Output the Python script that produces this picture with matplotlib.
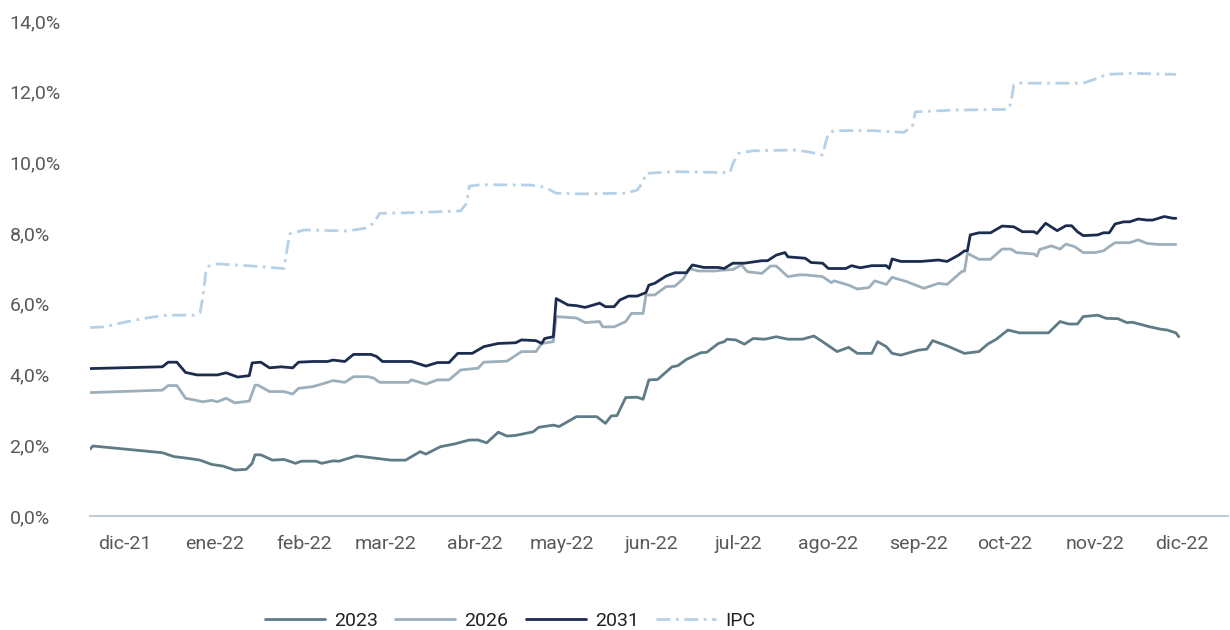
import pandas as pd
import matplotlib
matplotlib.use("Agg")
import matplotlib.pyplot as plt
from matplotlib.ticker import FuncFormatter

# datos (tasas en %)
fechas_2023 = ["2021-11-19", "2021-11-20", "2021-12-14", "2021-12-18", "2021-12-23", "2021-12-27",
               "2021-12-31", "2022-01-04", "2022-01-08", "2022-01-12", "2022-01-14", "2022-01-15",
               "2022-01-17", "2022-01-21", "2022-01-25", "2022-01-29", "2022-01-31", "2022-02-05",
               "2022-02-07", "2022-02-11", "2022-02-13", "2022-02-19", "2022-02-26", "2022-03-03",
               "2022-03-08", "2022-03-13", "2022-03-15", "2022-03-20", "2022-03-25", "2022-03-30",
               "2022-04-02", "2022-04-05", "2022-04-09", "2022-04-12", "2022-04-15", "2022-04-21",
               "2022-04-23", "2022-04-28", "2022-04-30", "2022-05-03", "2022-05-06", "2022-05-10",
               "2022-05-13", "2022-05-16", "2022-05-18", "2022-05-20", "2022-05-23", "2022-05-27",
               "2022-05-29", "2022-05-31", "2022-06-03", "2022-06-08", "2022-06-10", "2022-06-13",
               "2022-06-18", "2022-06-20", "2022-06-24", "2022-06-26", "2022-06-27", "2022-06-30",
               "2022-07-03", "2022-07-06", "2022-07-10", "2022-07-14", "2022-07-18", "2022-07-23",
               "2022-07-27", "2022-07-30", "2022-08-04", "2022-08-08", "2022-08-11", "2022-08-16",
               "2022-08-18", "2022-08-21", "2022-08-23", "2022-08-26", "2022-09-01", "2022-09-04",
               "2022-09-06", "2022-09-11", "2022-09-17", "2022-09-22", "2022-09-25", "2022-09-28",
               "2022-10-02", "2022-10-06", "2022-10-16", "2022-10-20", "2022-10-23", "2022-10-26",
               "2022-10-28", "2022-11-02", "2022-11-05", "2022-11-09", "2022-11-12", "2022-11-14",
               "2022-11-20", "2022-11-24", "2022-11-26", "2022-11-29", "2022-11-30"]
tasa_2023 = [1.89, 1.98, 1.79, 1.68, 1.63, 1.58,
             1.46, 1.41, 1.30, 1.32, 1.49, 1.73,
             1.73, 1.58, 1.60, 1.49, 1.55, 1.55,
             1.49, 1.56, 1.55, 1.70, 1.63, 1.58,
             1.58, 1.82, 1.75, 1.96, 2.04, 2.15,
             2.15, 2.07, 2.37, 2.26, 2.28, 2.38,
             2.51, 2.57, 2.53, 2.67, 2.81, 2.81,
             2.81, 2.62, 2.83, 2.84, 3.35, 3.36,
             3.30, 3.85, 3.86, 4.22, 4.25, 4.43,
             4.62, 4.63, 4.88, 4.93, 5.00, 4.98,
             4.86, 5.02, 5.00, 5.07, 5.00, 5.00,
             5.09, 4.93, 4.65, 4.77, 4.60, 4.60,
             4.93, 4.79, 4.60, 4.55, 4.69, 4.72,
             4.96, 4.81, 4.60, 4.65, 4.86, 5.00,
             5.26, 5.18, 5.18, 5.50, 5.43, 5.43,
             5.64, 5.68, 5.59, 5.58, 5.47, 5.48,
             5.35, 5.28, 5.26, 5.18, 5.07]

fechas_2026 = ["2021-11-19", "2021-12-14", "2021-12-16", "2021-12-19", "2021-12-22", "2021-12-25",
               "2021-12-28", "2021-12-31", "2022-01-02", "2022-01-05", "2022-01-08", "2022-01-13",
               "2022-01-15", "2022-01-16", "2022-01-20", "2022-01-25", "2022-01-28", "2022-01-30",
               "2022-02-04", "2022-02-07", "2022-02-11", "2022-02-15", "2022-02-18", "2022-02-23",
               "2022-02-25", "2022-02-27", "2022-03-09", "2022-03-10", "2022-03-15", "2022-03-19",
               "2022-03-23", "2022-03-27", "2022-04-02", "2022-04-04", "2022-04-12", "2022-04-17",
               "2022-04-22", "2022-04-24", "2022-04-28", "2022-04-29", "2022-05-06", "2022-05-09",
               "2022-05-14", "2022-05-15", "2022-05-19", "2022-05-23", "2022-05-25", "2022-05-29",
               "2022-05-30", "2022-06-02", "2022-06-06", "2022-06-09", "2022-06-12", "2022-06-14",
               "2022-06-17", "2022-06-23", "2022-06-25", "2022-06-29", "2022-07-02", "2022-07-04",
               "2022-07-09", "2022-07-12", "2022-07-14", "2022-07-18", "2022-07-22", "2022-07-24",
               "2022-07-30", "2022-08-02", "2022-08-03", "2022-08-08", "2022-08-11", "2022-08-15",
               "2022-08-17", "2022-08-21", "2022-08-23", "2022-08-28", "2022-09-03", "2022-09-08",
               "2022-09-11", "2022-09-16", "2022-09-17", "2022-09-18", "2022-09-22", "2022-09-26",
               "2022-09-30", "2022-10-03", "2022-10-05", "2022-10-11", "2022-10-12", "2022-10-13",
               "2022-10-17", "2022-10-20", "2022-10-22", "2022-10-25", "2022-10-28", "2022-11-01",
               "2022-11-04", "2022-11-06", "2022-11-08", "2022-11-13", "2022-11-16", "2022-11-19",
               "2022-11-23", "2022-11-29"]
tasa_2026 = [3.49, 3.56, 3.69, 3.69, 3.33, 3.28,
             3.23, 3.27, 3.23, 3.33, 3.20, 3.25,
             3.70, 3.70, 3.52, 3.52, 3.45, 3.61,
             3.66, 3.73, 3.83, 3.78, 3.94, 3.94,
             3.90, 3.78, 3.78, 3.85, 3.73, 3.85,
             3.85, 4.13, 4.18, 4.35, 4.38, 4.65,
             4.65, 4.88, 4.93, 5.64, 5.60, 5.47,
             5.50, 5.35, 5.35, 5.50, 5.73, 5.73,
             6.25, 6.25, 6.49, 6.50, 6.72, 7.00,
             6.93, 6.93, 6.95, 6.97, 7.10, 6.91,
             6.86, 7.07, 7.07, 6.77, 6.82, 6.82,
             6.77, 6.60, 6.65, 6.53, 6.42, 6.46,
             6.65, 6.55, 6.75, 6.63, 6.44, 6.58,
             6.55, 6.91, 6.93, 7.43, 7.26, 7.26,
             7.55, 7.55, 7.45, 7.41, 7.35, 7.54,
             7.64, 7.55, 7.69, 7.62, 7.45, 7.45,
             7.50, 7.62, 7.73, 7.73, 7.81, 7.71,
             7.68, 7.68]

fechas_2031 = ["2021-11-19", "2021-12-14", "2021-12-16", "2021-12-19", "2021-12-22", "2021-12-26",
               "2022-01-02", "2022-01-05", "2022-01-09", "2022-01-13", "2022-01-14", "2022-01-17",
               "2022-01-20", "2022-01-24", "2022-01-28", "2022-01-30", "2022-02-04", "2022-02-09",
               "2022-02-11", "2022-02-15", "2022-02-18", "2022-02-24", "2022-02-26", "2022-02-28",
               "2022-03-10", "2022-03-15", "2022-03-19", "2022-03-23", "2022-03-26", "2022-03-31",
               "2022-04-04", "2022-04-09", "2022-04-15", "2022-04-17", "2022-04-22", "2022-04-24",
               "2022-04-25", "2022-04-28", "2022-04-29", "2022-05-03", "2022-05-06", "2022-05-09",
               "2022-05-14", "2022-05-16", "2022-05-19", "2022-05-21", "2022-05-24", "2022-05-27",
               "2022-05-30", "2022-05-31", "2022-06-02", "2022-06-06", "2022-06-09", "2022-06-13",
               "2022-06-15", "2022-06-19", "2022-06-24", "2022-06-26", "2022-06-29", "2022-07-03",
               "2022-07-09", "2022-07-11", "2022-07-14", "2022-07-17", "2022-07-18", "2022-07-24",
               "2022-07-26", "2022-07-30", "2022-08-01", "2022-08-07", "2022-08-09", "2022-08-12",
               "2022-08-16", "2022-08-21", "2022-08-22", "2022-08-23", "2022-08-26", "2022-08-31",
               "2022-09-02", "2022-09-08", "2022-09-11", "2022-09-15", "2022-09-17", "2022-09-18",
               "2022-09-19", "2022-09-22", "2022-09-26", "2022-09-30", "2022-10-04", "2022-10-07",
               "2022-10-11", "2022-10-12", "2022-10-15", "2022-10-19", "2022-10-22", "2022-10-24",
               "2022-10-26", "2022-10-28", "2022-11-02", "2022-11-04", "2022-11-06", "2022-11-08",
               "2022-11-11", "2022-11-13", "2022-11-16", "2022-11-19", "2022-11-21", "2022-11-25",
               "2022-11-28", "2022-11-29"]
tasa_2031 = [4.17, 4.22, 4.35, 4.35, 4.06, 3.99,
             3.99, 4.05, 3.93, 3.97, 4.33, 4.35,
             4.19, 4.22, 4.19, 4.35, 4.37, 4.37,
             4.41, 4.37, 4.57, 4.57, 4.51, 4.37,
             4.37, 4.24, 4.34, 4.34, 4.60, 4.60,
             4.79, 4.88, 4.90, 4.98, 4.96, 4.88,
             5.02, 5.07, 6.15, 5.97, 5.95, 5.90,
             6.02, 5.92, 5.92, 6.11, 6.22, 6.22,
             6.32, 6.53, 6.58, 6.79, 6.88, 6.88,
             7.10, 7.03, 7.03, 7.00, 7.15, 7.15,
             7.22, 7.22, 7.38, 7.45, 7.33, 7.29,
             7.17, 7.15, 7.00, 7.00, 7.08, 7.02,
             7.08, 7.08, 7.00, 7.27, 7.20, 7.20,
             7.20, 7.24, 7.20, 7.38, 7.50, 7.50,
             7.95, 8.01, 8.01, 8.20, 8.18, 8.04,
             8.04, 7.99, 8.28, 8.07, 8.21, 8.21,
             8.04, 7.93, 7.95, 8.01, 8.01, 8.26,
             8.32, 8.32, 8.40, 8.37, 8.37, 8.47,
             8.42, 8.42]

fechas_ipc = ["2021-11-19", "2021-11-24", "2021-12-02", "2021-12-10", "2021-12-16", "2021-12-25",
              "2021-12-27", "2021-12-28", "2021-12-29", "2021-12-30", "2022-01-02", "2022-01-14",
              "2022-01-25", "2022-01-26", "2022-01-27", "2022-02-01", "2022-02-16", "2022-02-22",
              "2022-02-25", "2022-02-27", "2022-03-11", "2022-03-27", "2022-03-29", "2022-03-30",
              "2022-04-03", "2022-04-20", "2022-04-25", "2022-04-29", "2022-05-07", "2022-05-23",
              "2022-05-27", "2022-05-29", "2022-05-30", "2022-06-09", "2022-06-28", "2022-06-29",
              "2022-07-01", "2022-07-06", "2022-07-20", "2022-07-25", "2022-07-30", "2022-07-31",
              "2022-08-01", "2022-08-03", "2022-08-16", "2022-08-27", "2022-08-30", "2022-08-31",
              "2022-09-13", "2022-10-02", "2022-10-03", "2022-10-04", "2022-10-06", "2022-10-28",
              "2022-11-02", "2022-11-05", "2022-11-14", "2022-11-29"]
tasa_ipc = [5.33, 5.35, 5.50, 5.62, 5.68, 5.68,
            5.75, 6.20, 6.90, 7.07, 7.13, 7.07,
            7.00, 7.52, 7.98, 8.09, 8.06, 8.14,
            8.28, 8.56, 8.58, 8.63, 8.84, 9.33,
            9.37, 9.36, 9.30, 9.13, 9.11, 9.13,
            9.22, 9.45, 9.69, 9.74, 9.71, 9.97,
            10.26, 10.33, 10.35, 10.30, 10.21, 10.54,
            10.82, 10.90, 10.90, 10.85, 11.01, 11.43,
            11.48, 11.50, 11.67, 12.19, 12.24, 12.24,
            12.38, 12.49, 12.52, 12.49]

# etiquetas del eje x (inicio de cada mes)
meses = ["2021-12-01", "2022-01-01", "2022-02-01", "2022-03-01", "2022-04-01", "2022-05-01",
         "2022-06-01", "2022-07-01", "2022-08-01", "2022-09-01", "2022-10-01", "2022-11-01",
         "2022-12-01"]
etiquetas_meses = ["dic-21", "ene-22", "feb-22", "mar-22", "abr-22", "may-22", "jun-22",
                   "jul-22", "ago-22", "sep-22", "oct-22", "nov-22", "dic-22"]

plt.rcParams["font.family"] = ["Roboto", "DejaVu Sans"]

fig = plt.figure(figsize=(12.3, 6.3), dpi=100)
ax = fig.add_axes([90 / 1230, 114 / 630, 1138 / 1230, 495 / 630])

estilo = dict(lw=2.0, solid_joinstyle="round", solid_capstyle="round")
ax.plot(pd.to_datetime(fechas_2023), tasa_2023, color="#5f7b86", label="2023", **estilo)
ax.plot(pd.to_datetime(fechas_2026), tasa_2026, color="#9eafbc", label="2026", **estilo)
ax.plot(pd.to_datetime(fechas_2031), tasa_2031, color="#1c2c4f", label="2031", **estilo)
ax.plot(pd.to_datetime(fechas_ipc), tasa_ipc, color="#b5d1e8", lw=2.0, label="IPC",
        dashes=(5, 2, 1, 2))

# ejes
ax.set_xlim(pd.Timestamp("2021-11-19"), pd.Timestamp("2022-12-17"))
ax.set_ylim(0, 14)
ax.set_yticks(range(0, 15, 2))
ax.yaxis.set_major_formatter(FuncFormatter(lambda v, p: f"{v:.1f}%".replace(".", ",")))
ax.set_xticks(pd.to_datetime(meses))
ax.set_xticklabels(etiquetas_meses)

for s in ["top", "right", "left"]:
    ax.spines[s].set_visible(False)
ax.spines["bottom"].set_color("#c3cdd6")
ax.spines["bottom"].set_linewidth(1.5)

ax.tick_params(axis="both", length=0, labelsize=14, labelcolor="#595959")
ax.tick_params(axis="x", pad=14)
ax.tick_params(axis="y", pad=58)
for lbl in ax.get_yticklabels():
    lbl.set_horizontalalignment("left")

leg = fig.legend(loc="center", bbox_to_anchor=(510 / 1230, 1 - 621 / 630), ncol=4,
                 frameon=False, fontsize=14, handlelength=3.1, handletextpad=0.45,
                 columnspacing=0.9)
for t in leg.get_texts():
    t.set_color("#222222")

fig.savefig("out.png", dpi=100)
